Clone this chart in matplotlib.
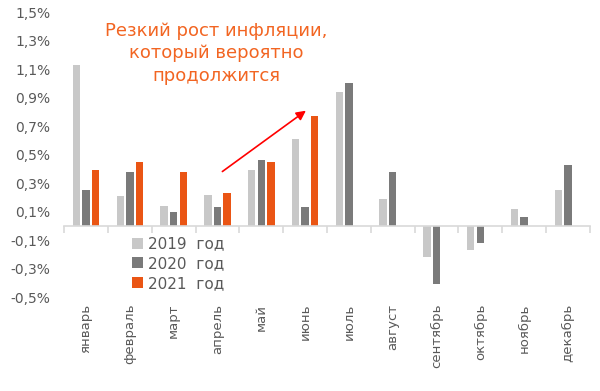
import numpy as np
import matplotlib.pyplot as plt

plt.rcParams['font.family'] = ['DejaVu Sans']

# Месячная инфляция, %
months = ['январь', 'февраль', 'март', 'апрель', 'май', 'июнь', 'июль',
          'август', 'сентябрь', 'октябрь', 'ноябрь', 'декабрь']
infl_2019 = [1.13, 0.21, 0.14, 0.22, 0.39, 0.61, 0.94, 0.19, -0.22, -0.17, 0.12, 0.25]
infl_2020 = [0.25, 0.38, 0.10, 0.13, 0.46, 0.13, 1.00, 0.38, -0.41, -0.12, 0.06, 0.43]
infl_2021 = [0.39, 0.45, 0.38, 0.23, 0.45, 0.77]
series_labels = ['2019  год', '2020  год', '2021  год']
yticks = [-0.5, -0.3, -0.1, 0.1, 0.3, 0.5, 0.7, 0.9, 1.1, 1.3, 1.5]

colors = ['#c8c8c8', '#7a7a7a', '#ea5514']
text_color = '#595959'

fig = plt.figure(figsize=(6, 3.91), dpi=100)
ax = fig.add_axes([0.107, 0.240, 0.876, 0.729])

x = np.arange(len(months))
w = 0.17
step = 0.22
ax.bar(x - step, infl_2019, w, color=colors[0], label=series_labels[0])
ax.bar(x, infl_2020, w, color=colors[1], label=series_labels[1])
ax.bar(np.arange(len(infl_2021)) + step, infl_2021, w, color=colors[2], label=series_labels[2])

ax.set_xlim(-0.5, len(months) - 0.5)
ax.set_ylim(-0.5, 1.5)

# оси
for s in ['top', 'right', 'left']:
    ax.spines[s].set_visible(False)
ax.spines['bottom'].set_position(('data', 0))
ax.spines['bottom'].set_color('#d9d9d9')
ax.spines['bottom'].set_linewidth(1.2)

ax.set_yticks(yticks)
ax.set_yticklabels([f'{v:.1f}%'.replace('.', ',') for v in yticks])
ax.tick_params(axis='y', length=0, pad=10, labelsize=10, labelcolor=text_color)

ax.set_xticks(x)
ax.set_xticklabels(months, rotation=90)
ax.set_xticks(np.arange(len(months) + 1) - 0.5, minor=True)
ax.tick_params(axis='x', which='major', length=0, pad=56, labelsize=9.5, labelcolor=text_color)
ax.tick_params(axis='x', which='minor', length=5, color='#d9d9d9', width=1.2)

ax.legend(loc='upper left', bbox_to_anchor=(0.197, 0.43), bbox_transform=fig.transFigure,
          frameon=False, fontsize=11, handlelength=0.75, handleheight=0.75,
          handletextpad=0.3, labelspacing=0.3, labelcolor=text_color)

ax.text(2.98, 1.21, 'Резкий рост инфляции,\nкоторый вероятно\nпродолжится',
        ha='center', va='center', fontsize=13, color='#f26522', linespacing=1.3)
ax.annotate('', xy=(5.07, 0.82), xytext=(3.06, 0.37),
            arrowprops=dict(arrowstyle='-|>', color='#ff0000', lw=1.2, mutation_scale=14))

fig.savefig('out.png', dpi=100)
